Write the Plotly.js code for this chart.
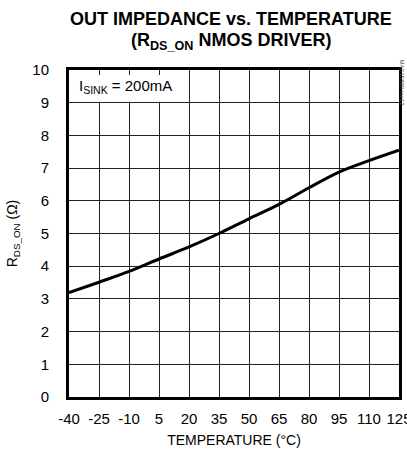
<!DOCTYPE html>
<html>
<head>
<meta charset="utf-8">
<script src="https://cdn.plot.ly/plotly-3.0.1.min.js"></script>
<style>html,body{margin:0;padding:0;background:#fff;}#chart{width:407px;height:459px;}</style>
</head>
<body>
<div id="chart"></div>
<script>
const temperatureC = [-40, -25, -10, 5, 20, 35, 50, 65, 80, 95, 110, 125];
const rdsOnOhm = [3.19, 3.51, 3.84, 4.22, 4.59, 5.0, 5.45, 5.89, 6.4, 6.88, 7.23, 7.55];
const xTickVals = [-40, -25, -10, 5, 20, 35, 50, 65, 80, 95, 110, 125];
const yTickVals = [0, 1, 2, 3, 4, 5, 6, 7, 8, 9, 10];
const titleLine1 = "OUT IMPEDANCE vs. TEMPERATURE";
const titleLine2 = "(R<sub>DS_ON</sub> NMOS DRIVER)";
const noteText = "I<sub>SINK</sub> = 200mA";
const sideText = "MAX15800 toc12";

const FONT = '"Liberation Sans", Arial, sans-serif';

const trace = {
  x: temperatureC,
  y: rdsOnOhm,
  type: 'scatter',
  mode: 'lines',
  line: {color: '#000', width: 3, shape: 'spline', smoothing: 1},
  hoverinfo: 'skip'
};

const layout = {
  width: 407, height: 459,
  margin: {l: 69, r: 8, t: 70, b: 62},
  paper_bgcolor: '#fff', plot_bgcolor: '#fff',
  showlegend: false,
  font: {family: FONT, color: '#000', size: 14},
  xaxis: {
    range: [-40, 125], tickvals: xTickVals, ticktext: xTickVals.map(String),
    showgrid: true, gridcolor: '#222', gridwidth: 1, zeroline: false,
    showline: true, linecolor: '#000', linewidth: 3, mirror: true,
    ticks: '', ticklabelstandoff: 6, ticklabeloverflow: 'allow',
    tickfont: {family: FONT, size: 15}, fixedrange: true,
    title: {text: 'TEMPERATURE (°C)', font: {family: FONT, size: 14}, standoff: 10}
  },
  yaxis: {
    range: [0, 10], tickvals: yTickVals,
    showgrid: true, gridcolor: '#222', gridwidth: 1, zeroline: false,
    showline: true, linecolor: '#000', linewidth: 3, mirror: true,
    ticks: '', ticklabelstandoff: 14, ticklabeloverflow: 'allow',
    tickfont: {family: FONT, size: 15}, fixedrange: true,
    title: {text: 'R<sub>DS_ON</sub> (Ω)', font: {family: FONT, size: 14}, standoff: 12}
  },
  shapes: [{
    type: 'rect', xref: 'x', yref: 'y', x0: -39.2, x1: 19.6, y0: 9.03, y1: 9.85,
    fillcolor: '#fff', line: {width: 0}, layer: 'between'
  }],
  annotations: [
    {text: '<b>' + titleLine1 + '</b>', xref: 'paper', yref: 'paper', x: 0.49, y: 1, yshift: 51,
     xanchor: 'center', yanchor: 'middle', showarrow: false, font: {family: FONT, size: 18, color: '#000'}},
    {text: '<b>' + titleLine2 + '</b>', xref: 'paper', yref: 'paper', x: 0.49, y: 1, yshift: 29,
     xanchor: 'center', yanchor: 'middle', showarrow: false, font: {family: FONT, size: 18, color: '#000'}},
    {text: noteText, xref: 'x', yref: 'y', x: -36, y: 9.5, xanchor: 'left', yanchor: 'middle',
     showarrow: false, font: {family: FONT, size: 15, color: '#000'}},
    {text: sideText, xref: 'paper', yref: 'paper', x: 1, xshift: 3, y: 1, yshift: 13,
     xanchor: 'center', yanchor: 'top', textangle: 90, showarrow: false,
     font: {family: FONT, size: 6, color: '#555'}}
  ]
};

Plotly.newPlot('chart', [trace], layout, {displayModeBar: false, staticPlot: true});
</script>
</body>
</html>
